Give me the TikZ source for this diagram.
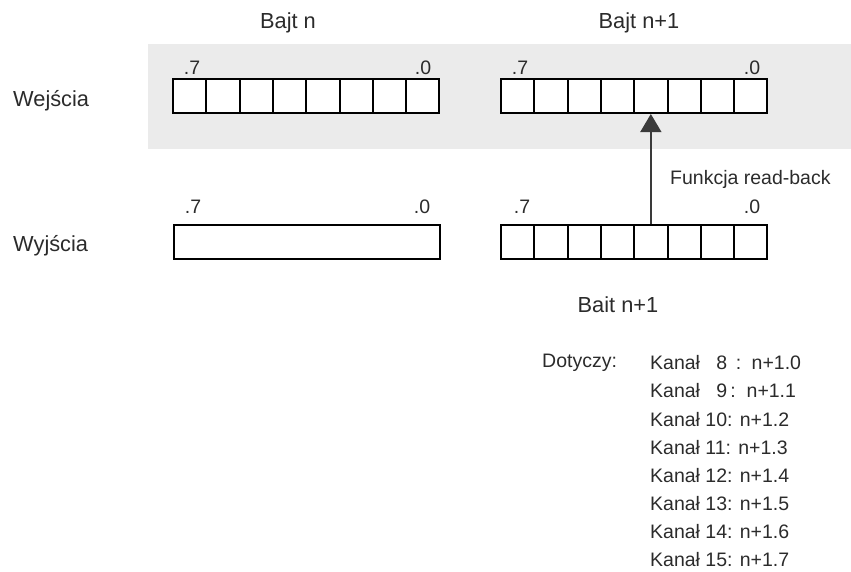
\documentclass[tikz,border=0pt]{standalone}
\usepackage{fontspec}
\setmainfont{Liberation Sans}
\usetikzlibrary{arrows.meta}
\definecolor{txt}{HTML}{2B2B2B}
\definecolor{band}{HTML}{EBEBEB}
\definecolor{arr}{HTML}{3A3A3A}
\tikzset{
  lbl/.style={inner sep=0pt, text=txt, font=\fontsize{19.5}{23}\selectfont},
  head/.style={inner sep=0pt, text=txt, font=\fontsize{21.8}{26}\selectfont},
  cell/.style={draw=black, line width=2pt, minimum width=33.3pt, minimum height=34pt, inner sep=0pt, fill=white},
  bigbox/.style={draw=black, line width=2pt, minimum width=266pt, minimum height=34pt, inner sep=0pt, fill=white},
  rb/.style={draw=arr, line width=1.4pt, -{Triangle[width=21pt,length=18pt]}}
}
\begin{document}
\begin{tikzpicture}[x=1pt,y=-1pt]
\useasboundingbox (0,0) rectangle (851,571);
\fill[band] (148,44) rectangle (851,149);
% headings
\node[head] (hn) at (288,23) {Bajt n};
\node[head] (hn1) at (639,23) {Bajt n+1};
\node[head, anchor=west] (we) at (13,101) {Wejścia};
\node[head, anchor=west] (wy) at (13,246) {Wyjścia};
% input byte n
\foreach \i in {0,...,7} {
  \node[cell] (a\i) at ({173+16.65+\i*33.3},96) {};
}
% input byte n+1
\foreach \i in {0,...,7} {
  \node[cell] (b\i) at ({501+16.65+\i*33.3},96) {};
}
% output byte n
\node[bigbox] (c) at (306.5,242) {};
% output byte n+1
\foreach \i in {0,...,7} {
  \node[cell] (d\i) at ({501+16.65+\i*33.3},242) {};
}
% bit labels
\node[lbl] (la7) at (192,68) {.7};
\node[lbl] (la0) at (423,68) {.0};
\node[lbl] (lb7) at (520,68) {.7};
\node[lbl] (lb0) at (752,68) {.0};
\node[lbl] (lc7) at (193,207) {.7};
\node[lbl] (lc0) at (422,207) {.0};
\node[lbl] (ld7) at (522,207) {.7};
\node[lbl] (ld0) at (752,207) {.0};
% read-back arrow
\draw[rb] (d4.north) -- (b4.south);
\node[lbl, anchor=west] (fr) at (670,179) {Funkcja read-back};
\node[head] (bait) at (618,305) {Bait n+1};
% list
\node[lbl, anchor=west] (dot) at (542,363) {Dotyczy:};
\node[lbl, anchor=west] (k8) at (650,363) {Kanał\hphantom{1} 8\, : \,n+1.0};
\node[lbl, anchor=west] (k9) at (650,391) {Kanał\hphantom{1} 9\,:\ \ n+1.1};
\node[lbl, anchor=west] (k10) at (650,420) {Kanał 10: n+1.2};
\node[lbl, anchor=west] (k11) at (650,448) {Kanał 11: n+1.3};
\node[lbl, anchor=west] (k12) at (650,476) {Kanał 12: n+1.4};
\node[lbl, anchor=west] (k13) at (650,504) {Kanał 13: n+1.5};
\node[lbl, anchor=west] (k14) at (650,532) {Kanał 14: n+1.6};
\node[lbl, anchor=west] (k15) at (650,560) {Kanał 15: n+1.7};
\end{tikzpicture}
\end{document}
